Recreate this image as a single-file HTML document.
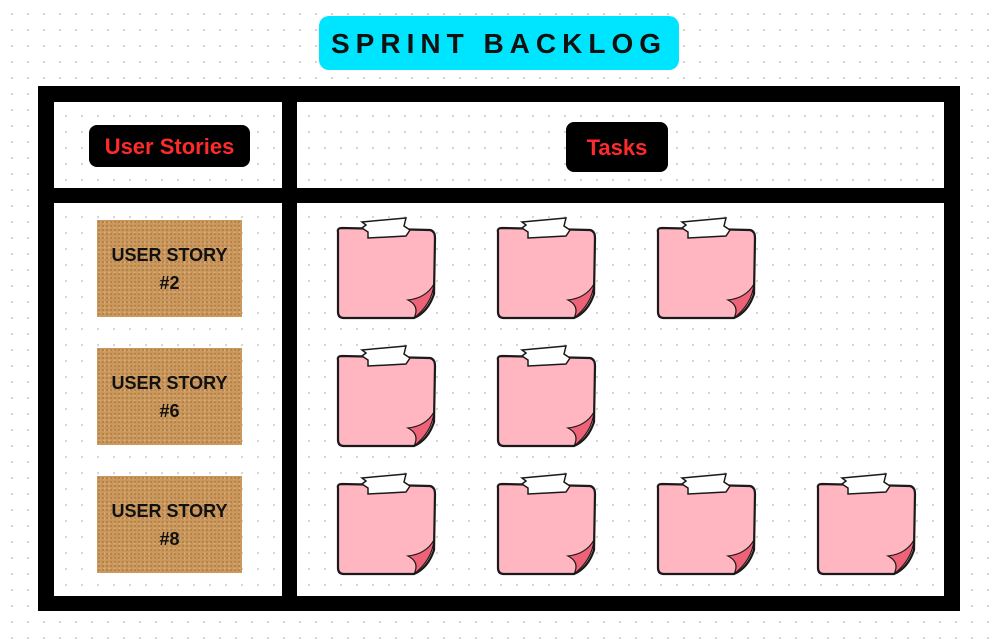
<!DOCTYPE html>
<html><head><style>
body{margin:0;width:989px;height:639px;background:#fff;background-image:radial-gradient(circle,#d4d4d4 1px,transparent 1.3px);background-size:16px 16px;background-position:4px 6px;position:relative;overflow:hidden;font-family:"Liberation Sans",sans-serif}
.a{position:absolute}
.title{left:319px;top:16px;width:360px;height:54px;background:#00e5ff;border-radius:10px;text-align:center;line-height:56px;font-weight:bold;font-size:28px;letter-spacing:6px;color:#111}
.bar{background:#000;position:absolute}
.lab{background:#000;color:#ff2a2a;font-weight:bold;font-size:22px;border-radius:8px;text-align:center}
.us{width:145px;height:97px;background:#c9975c;background-image:radial-gradient(circle,#b07f45 0.8px,transparent 1.2px),radial-gradient(circle,#dcae70 0.8px,transparent 1.2px);background-size:4px 4px,5px 5px;display:flex;align-items:center;justify-content:center;text-align:center;font-weight:bold;font-size:18px;line-height:28px;color:#111}
.panel{background:#fff;position:absolute;background-image:radial-gradient(circle,#d4d4d4 1px,transparent 1.3px);background-size:16px 16px;background-position:4px 6px}
</style></head><body>
<div class="a title">SPRINT BACKLOG</div>
<div class="bar" style="left:38px;top:86px;width:922px;height:525px"></div>
<div class="panel" style="left:54px;top:102px;width:228px;height:86px"></div>
<div class="panel" style="left:297px;top:102px;width:647px;height:86px"></div>
<div class="panel" style="left:54px;top:203px;width:228px;height:393px"></div>
<div class="panel" style="left:297px;top:203px;width:647px;height:393px"></div>
<div class="a lab" style="left:89px;top:125px;width:161px;height:42px;line-height:44px">User Stories</div>
<div class="a lab" style="left:566px;top:122px;width:102px;height:50px;line-height:52px">Tasks</div>
<div class="a us" style="left:97px;top:220px">USER STORY<br>#2</div>
<div class="a us" style="left:97px;top:348px">USER STORY<br>#6</div>
<div class="a us" style="left:97px;top:476px">USER STORY<br>#8</div>
<svg class="a" style="left:0;top:0" width="989" height="639">
<defs><g id="n">
<path d="M2 14 Q1 10 6 10 L94 12 Q99 13 99 20 L98 76 Q92 94 78 100 L8 100 Q2 100 2 94 Z" fill="#ffb6c1" stroke="#1a1a1a" stroke-width="2.2"/>
<path d="M98 66 Q96 86 78 100 Q84 88 72 82 Q90 80 98 66 Z" fill="#ee6378" stroke="#1a1a1a" stroke-width="1.2"/>
<path d="M26 0 L70 -4 L68 4 L74 8 L70 14 L32 16 L32 10 L26 6 L30 3 Z" fill="#fff" stroke="#1a1a1a" stroke-width="1.5" transform="translate(0,4)"/>
</g></defs>
<use href="#n" x="336" y="218"/><use href="#n" x="496" y="218"/><use href="#n" x="656" y="218"/>
<use href="#n" x="336" y="346"/><use href="#n" x="496" y="346"/>
<use href="#n" x="336" y="474"/><use href="#n" x="496" y="474"/><use href="#n" x="656" y="474"/><use href="#n" x="816" y="474"/>
</svg>
</body></html>
